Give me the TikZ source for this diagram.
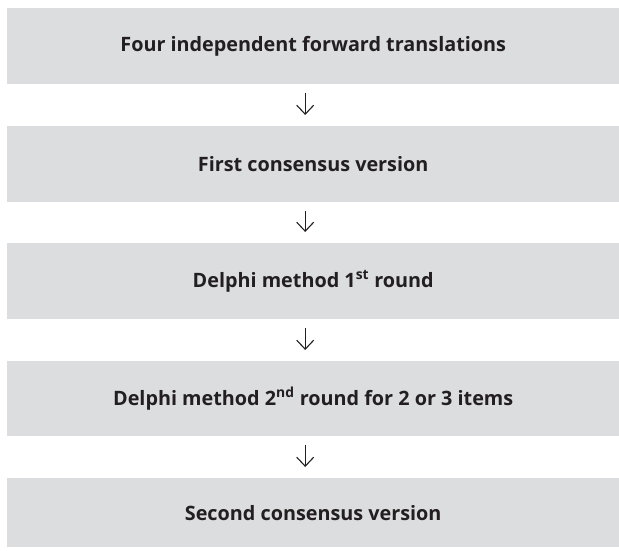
\documentclass[tikz,border=0pt]{standalone}
\usepackage{fontspec}
\setmainfont{Open Sans}
\usetikzlibrary{arrows.meta}
\definecolor{boxgray}{RGB}{220,221,223}
\definecolor{inkc}{RGB}{35,31,32}
\begin{document}
\begin{tikzpicture}[x=1pt,y=-1pt,
  stepbox/.style={fill=boxgray,draw=none,minimum width=612pt,inner sep=0pt,
    font=\fontsize{19.8}{23}\selectfont\bfseries,text=inkc,anchor=north west},
  flow/.style={draw=inkc,line width=1.1pt,-{Straight Barb[length=9pt,width=17pt,line width=1.1pt]},
    shorten <=9pt,shorten >=11pt}]
\useasboundingbox (0,0) rectangle (619,551);
\node[stepbox,minimum height=76pt] (b1) at (7,8) {Four independent forward translations};
\node[stepbox,minimum height=76pt] (b2) at (7,126) {First consensus version};
\node[stepbox,minimum height=76pt] (b3) at (7,243) {Delphi method 1\textsuperscript{st} round};
\node[stepbox,minimum height=75pt] (b4) at (7,361) {Delphi method 2\textsuperscript{nd} round for 2 or 3 items};
\node[stepbox,minimum height=69pt] (b5) at (7,478) {Second consensus version};
\draw[flow] ([xshift=-8pt]b1.south) -- ([xshift=-8pt]b2.north);
\draw[flow] ([xshift=-8pt]b2.south) -- ([xshift=-8pt]b3.north);
\draw[flow] ([xshift=-8pt]b3.south) -- ([xshift=-8pt]b4.north);
\draw[flow] ([xshift=-8pt]b4.south) -- ([xshift=-8pt]b5.north);
\end{tikzpicture}
\end{document}
